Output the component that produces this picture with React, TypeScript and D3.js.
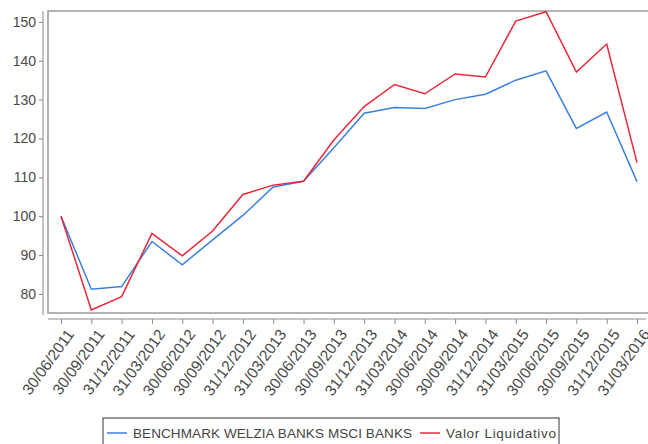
import React, { useEffect, useRef } from 'react'
import * as d3 from 'd3'

const dates = [
  '30/06/2011', '30/09/2011', '31/12/2011', '31/03/2012', '30/06/2012',
  '30/09/2012', '31/12/2012', '31/03/2013', '30/06/2013', '30/09/2013',
  '31/12/2013', '31/03/2014', '30/06/2014', '30/09/2014', '31/12/2014',
  '31/03/2015', '30/06/2015', '30/09/2015', '31/12/2015', '31/03/2016',
]
const benchmark = [100, 81.2, 81.9, 93.5, 87.5, 93.9, 100.2, 107.5, 109, 117.6,
  126.5, 128, 127.7, 130, 131.4, 135, 137.4, 122.6, 126.8, 108.9]
const valorLiquidativo = [100, 75.9, 79.3, 95.6, 89.8, 96.2, 105.6, 108, 109, 119.6,
  128.2, 133.9, 131.5, 136.6, 135.8, 150.2, 152.6, 137.1, 144.3, 113.8]
const yTicks = [80, 90, 100, 110, 120, 130, 140, 150]

const series = [
  { name: 'BENCHMARK WELZIA BANKS MSCI BANKS', values: benchmark, color: '#3b7fe0', textW: 279 },
  { name: 'Valor Liquidativo', values: valorLiquidativo, color: '#e8283a', textW: 110 },
]

const W = 648
const H = 444
const box = { left: 48, top: 11, right: 652, bottom: 313 }
const font = 'Liberation Sans, Arial, sans-serif'

export default function App() {
  const ref = useRef<SVGSVGElement>(null)

  useEffect(() => {
    document.body.style.margin = '0'
    const svg = d3.select(ref.current)
    svg.selectAll('*').remove()

    const x = d3.scalePoint().domain(dates).range([61, 637])
    const y = d3.scaleLinear().domain([75.1, 152.8]).range([box.bottom, box.top])

    // plot frame
    svg.append('rect')
      .attr('x', box.left).attr('y', box.top)
      .attr('width', box.right - box.left).attr('height', box.bottom - box.top)
      .attr('fill', 'white').attr('stroke', '#9a9a9a').attr('stroke-width', 1.5)

    // y axis
    const gy = svg.append('g').attr('transform', 'translate(43,0)')
      .call(d3.axisLeft(y).tickValues(yTicks).tickSize(4).tickPadding(3))
    gy.select('.domain').attr('stroke', '#8a8a8a').attr('d', `M-0,${box.top}V${box.bottom + 2}`)
    gy.selectAll('.tick line').attr('stroke', '#8a8a8a')
    gy.selectAll('.tick text')
      .attr('fill', '#4a4a4a').style('font-family', font).style('font-size', '14px')

    // x axis
    const gx = svg.append('g').attr('transform', 'translate(0,319)')
      .call(d3.axisBottom(x).tickSize(5).tickPadding(6))
    gx.select('.domain').attr('stroke', '#8a8a8a').attr('d', `M48,0H646`)
    gx.selectAll('.tick line').attr('stroke', '#8a8a8a')
    gx.selectAll('.tick text')
      .attr('fill', '#4a4a4a').style('font-family', font).style('font-size', '15.5px')
      .attr('text-anchor', 'end')
      .attr('transform', 'translate(9,12) rotate(-54)')
      .attr('dy', '0.35em').attr('y', 0).attr('x', 0)

    // lines
    const line = d3.line<number>().x((_, i) => x(dates[i]) as number).y(d => y(d))
    series.forEach(s => {
      svg.append('path').datum(s.values)
        .attr('d', line).attr('fill', 'none')
        .attr('stroke', s.color).attr('stroke-width', 1.5)
    })

    // legend
    const lg = svg.append('g')
    lg.append('rect').attr('x', 103).attr('y', 418).attr('width', 456).attr('height', 30)
      .attr('fill', 'white').attr('stroke', '#333').attr('stroke-width', 1)
    let lx = 107
    series.forEach(s => {
      lg.append('line').attr('x1', lx).attr('x2', lx + 20).attr('y1', 433).attr('y2', 433)
        .attr('stroke', s.color).attr('stroke-width', 1.5)
      lg.append('text').attr('x', lx + 26).attr('y', 438)
        .attr('fill', '#444').style('font-family', font).style('font-size', '13.5px')
        .attr('textLength', s.textW).attr('lengthAdjust', 'spacing')
        .text(s.name)
      lx = lx + 26 + s.textW + 8
    })
  }, [])

  return <svg ref={ref} width={W} height={H} style={{ display: 'block', background: 'white' }} />
}
